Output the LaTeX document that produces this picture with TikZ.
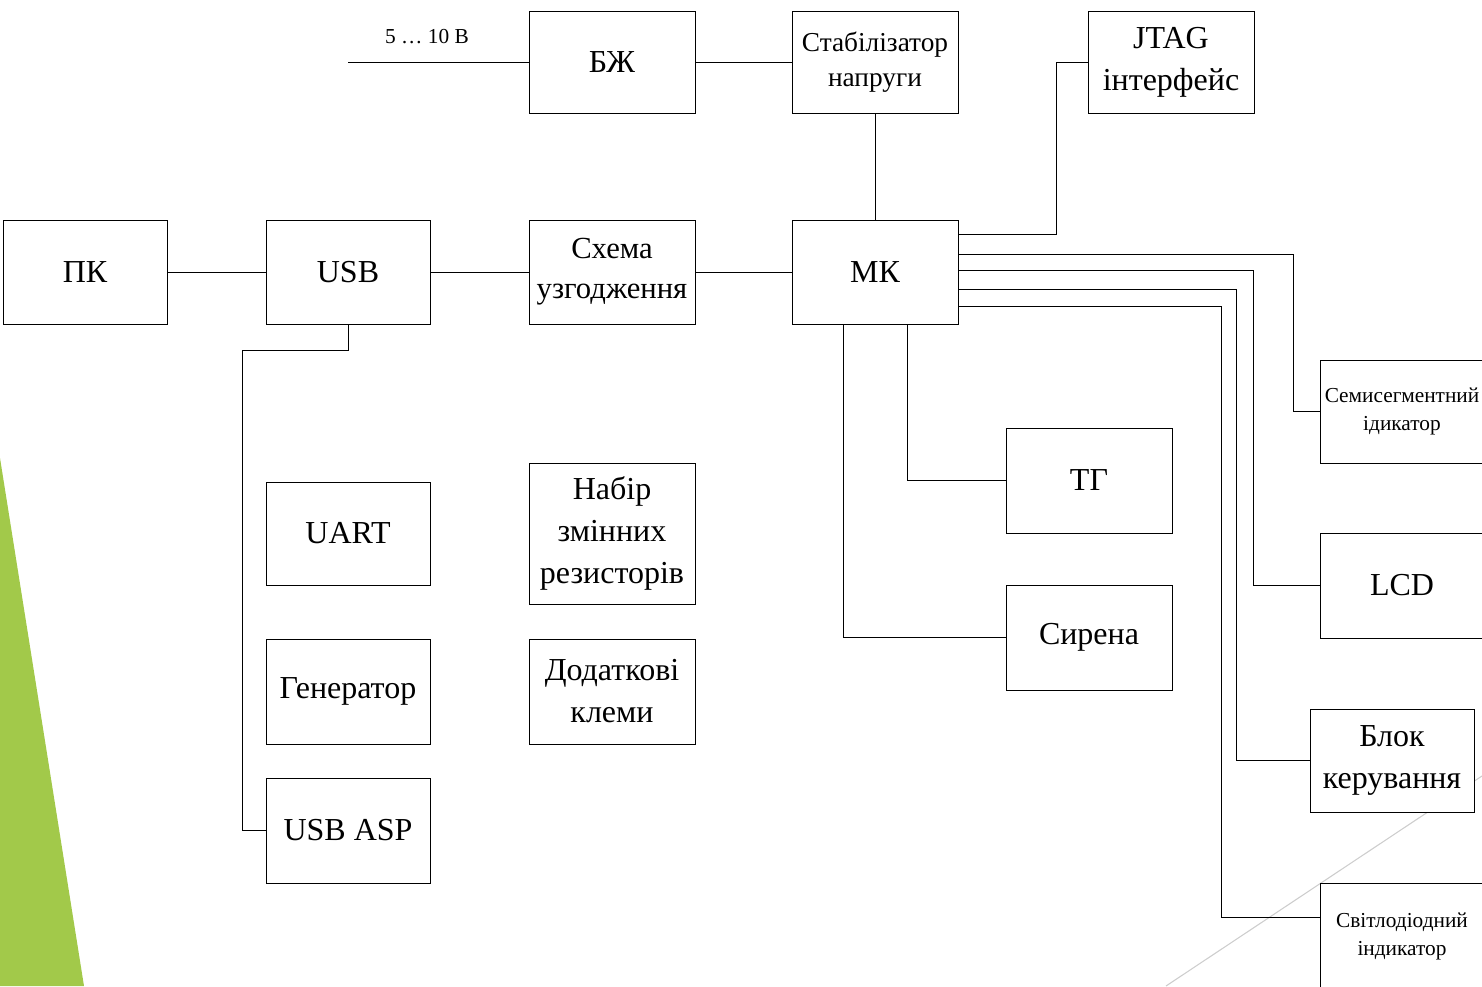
\documentclass[tikz,border=0pt]{standalone}
\usepackage{fontspec}
\setmainfont{Liberation Serif}
\usetikzlibrary{calc}
\definecolor{leaf}{RGB}{162,201,74}
\definecolor{faint}{RGB}{205,205,205}
\tikzset{
  box/.style={draw=black, line width=0.7pt, fill=white, align=center, inner sep=0pt},
  bigtxt/.style={font=\fontsize{24}{31.5}\selectfont},
  schtxt/.style={font=\fontsize{23}{30}\selectfont},
  midtxt/.style={font=\fontsize{20.5}{26}\selectfont},
  smalltxt/.style={font=\fontsize{16}{21}\selectfont},
  wire/.style={draw=black, line width=0.7pt}
}
\newcommand{\blk}[7]{\node[box,#7, minimum width={(#4-#2)*0.75pt}, minimum height={(#5-#3)*0.75pt}] (#1) at ({(#2+#4)/2},{(#3+#5)/2}) {#6};}
\begin{document}
\begin{tikzpicture}[x=0.75pt,y=-0.75pt]
\useasboundingbox (0,0) rectangle (1482,986);
\clip (0,0) rectangle (1482,986);
% background decoration
\fill[leaf] (0,458) -- (84,986) -- (0,986) -- cycle;
\draw[faint, line width=0.8pt] (1166,986) -- (1482,776);
% blocks
\blk{pk}{3}{220}{167}{324}{ПК}{bigtxt}
\blk{usb}{266}{220}{430}{324}{USB}{bigtxt}
\blk{sch}{529}{220}{695}{324}{Схема\\узгодження}{schtxt}
\blk{mk}{792}{220}{958}{324}{МК}{bigtxt}
\blk{bzh}{529}{11}{695}{113}{БЖ}{bigtxt}
\blk{stab}{792}{11}{958}{113}{Стабілізатор\\напруги}{midtxt}
\blk{jtag}{1088}{11}{1254}{113}{JTAG\\інтерфейс}{bigtxt}
\blk{uart}{266}{482}{430}{585}{UART}{bigtxt}
\blk{gen}{266}{639}{430}{744}{Генератор}{bigtxt}
\blk{usbasp}{266}{778}{430}{883}{USB ASP}{bigtxt}
\blk{res}{529}{463}{695}{604}{Набір\\змінних\\резисторів}{bigtxt}
\blk{kl}{529}{639}{695}{744}{Додаткові\\клеми}{bigtxt}
\blk{tg}{1006}{428}{1172}{533}{ТГ}{bigtxt}
\blk{sir}{1006}{585}{1172}{690}{Сирена}{bigtxt}
\blk{seg}{1320}{360}{1484}{463}{Семисегментний\\ідикатор}{smalltxt}
\blk{lcd}{1320}{533}{1484}{638}{LCD}{bigtxt}
\blk{bk}{1310}{709}{1474}{812}{Блок\\керування}{bigtxt}
\blk{led}{1320}{883}{1484}{990}{Світлодіодний\\індикатор}{smalltxt}
% input label
\coordinate (vin) at (348,62);
\node[smalltxt, inner sep=0pt] (vlab) at (427,37) {5 … 10 В};
% connectors
\draw[wire] (vin) -- (bzh.west);
\draw[wire] (bzh.east) -- (stab.west);
\draw[wire] (stab.south) -- (mk.north);
\draw[wire] (pk.east) -- (usb.west);
\draw[wire] (usb.east) -- (sch.west);
\draw[wire] (sch.east) -- (mk.west);
\draw[wire] (usb.south) |- (242,350) |- (usbasp.west);
\draw[wire] ($(mk.east)+(0,-38)$) -- (1056,234) |- (jtag.west);
\draw[wire] ($(mk.east)+(0,-18)$) -| ($(seg.west)+(-26,0)$) -- (seg.west);
\draw[wire] ($(mk.east)+(0,-2)$) -| ($(lcd.west)+(-66,0)$) -- (lcd.west);
\draw[wire] ($(mk.east)+(0,17)$) -| ($(bk.west)+(-73,0)$) -- (bk.west);
\draw[wire] ($(mk.east)+(0,34)$) -| ($(led.west)+(-98,-19)$) -- ($(led.west)+(0,-19)$);
\draw[wire] ($(mk.south)+(32,0)$) |- (tg.west);
\draw[wire] ($(mk.south)+(-32,0)$) |- (sir.west);
\end{tikzpicture}
\end{document}
